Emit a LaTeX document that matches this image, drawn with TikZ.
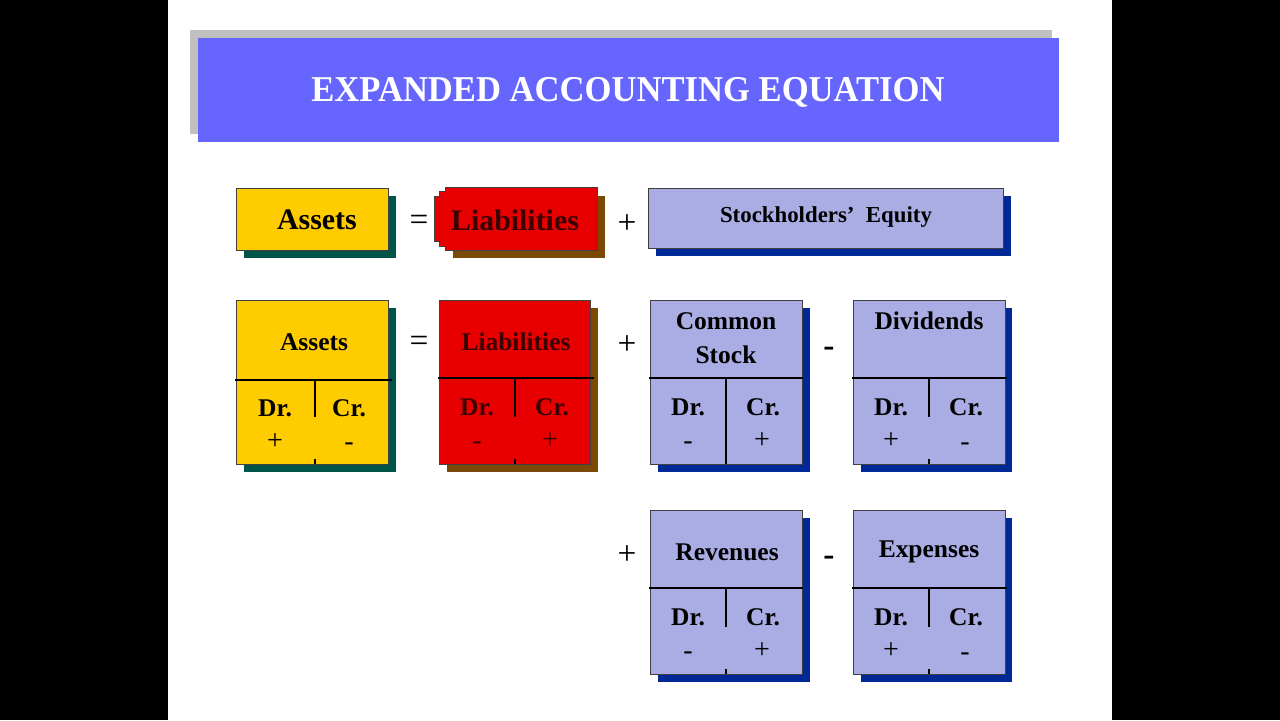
\documentclass[tikz,border=0pt]{standalone}
\usepackage{fontspec}
\setmainfont{Liberation Serif}
\definecolor{TitleBlue}{RGB}{102,102,255}
\definecolor{TitleGray}{RGB}{192,192,192}
\definecolor{Gold}{RGB}{255,204,0}
\definecolor{Teal}{RGB}{0,85,75}
\definecolor{Scarlet}{RGB}{232,0,0}
\definecolor{Maroon}{RGB}{60,0,0}
\definecolor{Umber}{RGB}{122,74,4}
\definecolor{Lavender}{RGB}{170,172,228}
\definecolor{Navy}{RGB}{0,40,150}

\begin{document}
\begin{tikzpicture}[x=0.02cm,y=-0.02cm,
  box/.style={draw=black!75,line width=0.5pt},
  tline/.style={line width=1.4pt},
  hd/.style={font=\fontsize{14.5}{19}\selectfont\bfseries},
  big/.style={font=\fontsize{17}{20}\selectfont\bfseries},
  op/.style={font=\fontsize{19}{20}\selectfont},
  pm/.style={font=\fontsize{16}{18}\selectfont}]
%\draw[help lines] (0,0) grid (1280,720);
\useasboundingbox (0,0) rectangle (1280,720);
\fill[black] (0,0) rectangle (168,720);
\fill[black] (1112,0) rectangle (1280,720);
% title
\fill[TitleGray] (190,30) rectangle (1052,134);
\fill[TitleBlue] (198,38) rectangle (1059,142);
\node[white,font=\fontsize{19.7}{22}\selectfont\bfseries] (title) at (628,92) {\scalebox{1}[1.05]{EXPANDED ACCOUNTING EQUATION}};
% first row
\fill[Teal] (244,196) rectangle (396,258);
\draw[box,fill=Gold] (236,188) rectangle (388,250);
\node[big] (assetsA) at (317,220) {Assets};
\node[op] (equalA) at (419,223) {=};
\fill[Umber] (453,196) rectangle (605,258);
\draw[box,fill=Scarlet] (445,187) -- (597,187) -- (597,250) -- (445,250) -- (445,246) -- (439,246) -- (439,241) -- (434,241) -- (434,196) -- (439,196) -- (439,191) -- (445,191) -- cycle;
\node[big,Maroon] (liabA) at (515,220) {Liabilities};
\node[op] (plusA) at (627,224) {+};
\fill[Navy] (656,196) rectangle (1011,256);
\draw[box,fill=Lavender] (648,188) rectangle (1003,248);
\node[font=\fontsize{13}{15}\selectfont\bfseries] (equity) at (826,217) {Stockholders’~~Equity};
% assets account
\fill[Teal] (244,308) rectangle (396,472);
\draw[box,fill=Gold] (236,300) rectangle (388,464);
\draw[tline] (235,380) -- (392,380);
\draw[tline] (315,380) -- (315,417);
\draw[tline] (315,459) -- (315,464);
\node[hd] (assetsB) at (314,342) {Assets};
\node[hd] (assetsDr) at (275,408) {Dr.};
\node[hd] (assetsCr) at (349,408) {Cr.};
\node[pm] (assetsDs) at (275,442) {+};
\node[pm] (assetsCs) at (349,447) {-};
\node[op] (equalB) at (419,344) {=};
% liabilities account
\fill[Umber] (447,308) rectangle (598,472);
\draw[box,fill=Scarlet] (439,300) rectangle (590,464);
\draw[tline] (438,378) -- (594,378);
\draw[tline] (515,378) -- (515,417);
\draw[tline] (515,459) -- (515,464);
\node[hd,Maroon] (liabB) at (516,342) {Liabilities};
\node[hd,Maroon] (liabDr) at (477,407) {Dr.};
\node[hd,Maroon] (liabCr) at (552,407) {Cr.};
\node[pm,Maroon] (liabDs) at (477,446) {-};
\node[pm,Maroon] (liabCs) at (550,441) {+};
\node[op] (plusB) at (627,345) {+};
% common stock account
\fill[Navy] (658,308) rectangle (810,472);
\draw[box,fill=Lavender] (650,300) rectangle (802,464);
\draw[tline] (649,378) -- (803,378);
\draw[tline] (726,378) -- (726,464);
\node[hd,align=center] (stock) at (726,338) {Common\\Stock};
\node[hd] (stockDr) at (688,407) {Dr.};
\node[hd] (stockCr) at (763,407) {Cr.};
\node[pm] (stockDs) at (688,446) {-};
\node[pm] (stockCs) at (762,441) {+};
\node[op,font=\fontsize{19}{20}\selectfont\bfseries] (minusB) at (829,352) {-};
% dividends account
\fill[Navy] (861,308) rectangle (1012,472);
\draw[box,fill=Lavender] (853,300) rectangle (1005,464);
\draw[tline] (852,378) -- (1007,378);
\draw[tline] (929,378) -- (929,417);
\draw[tline] (929,459) -- (929,464);
\node[hd] (divid) at (929,321) {Dividends};
\node[hd] (dividDr) at (891,407) {Dr.};
\node[hd] (dividCr) at (966,407) {Cr.};
\node[pm] (dividDs) at (891,441) {+};
\node[pm] (dividCs) at (965,447) {-};
% revenues account
\node[op] (plusC) at (627,555) {+};
\fill[Navy] (658,518) rectangle (810,682);
\draw[box,fill=Lavender] (650,510) rectangle (802,674);
\draw[tline] (649,588) -- (803,588);
\draw[tline] (726,588) -- (726,627);
\draw[tline] (726,669) -- (726,674);
\node[hd] (revs) at (727,552) {Revenues};
\node[hd] (revsDr) at (688,617) {Dr.};
\node[hd] (revsCr) at (763,617) {Cr.};
\node[pm] (revsDs) at (688,656) {-};
\node[pm] (revsCs) at (762,651) {+};
\node[op,font=\fontsize{19}{20}\selectfont\bfseries] (minusC) at (829,561) {-};
% expenses account
\fill[Navy] (861,518) rectangle (1012,682);
\draw[box,fill=Lavender] (853,510) rectangle (1005,674);
\draw[tline] (852,588) -- (1007,588);
\draw[tline] (929,588) -- (929,627);
\draw[tline] (929,669) -- (929,674);
\node[hd] (exps) at (929,552) {Expenses};
\node[hd] (expsDr) at (891,617) {Dr.};
\node[hd] (expsCr) at (966,617) {Cr.};
\node[pm] (expsDs) at (891,651) {+};
\node[pm] (expsCs) at (965,657) {-};
\end{tikzpicture}
\end{document}
